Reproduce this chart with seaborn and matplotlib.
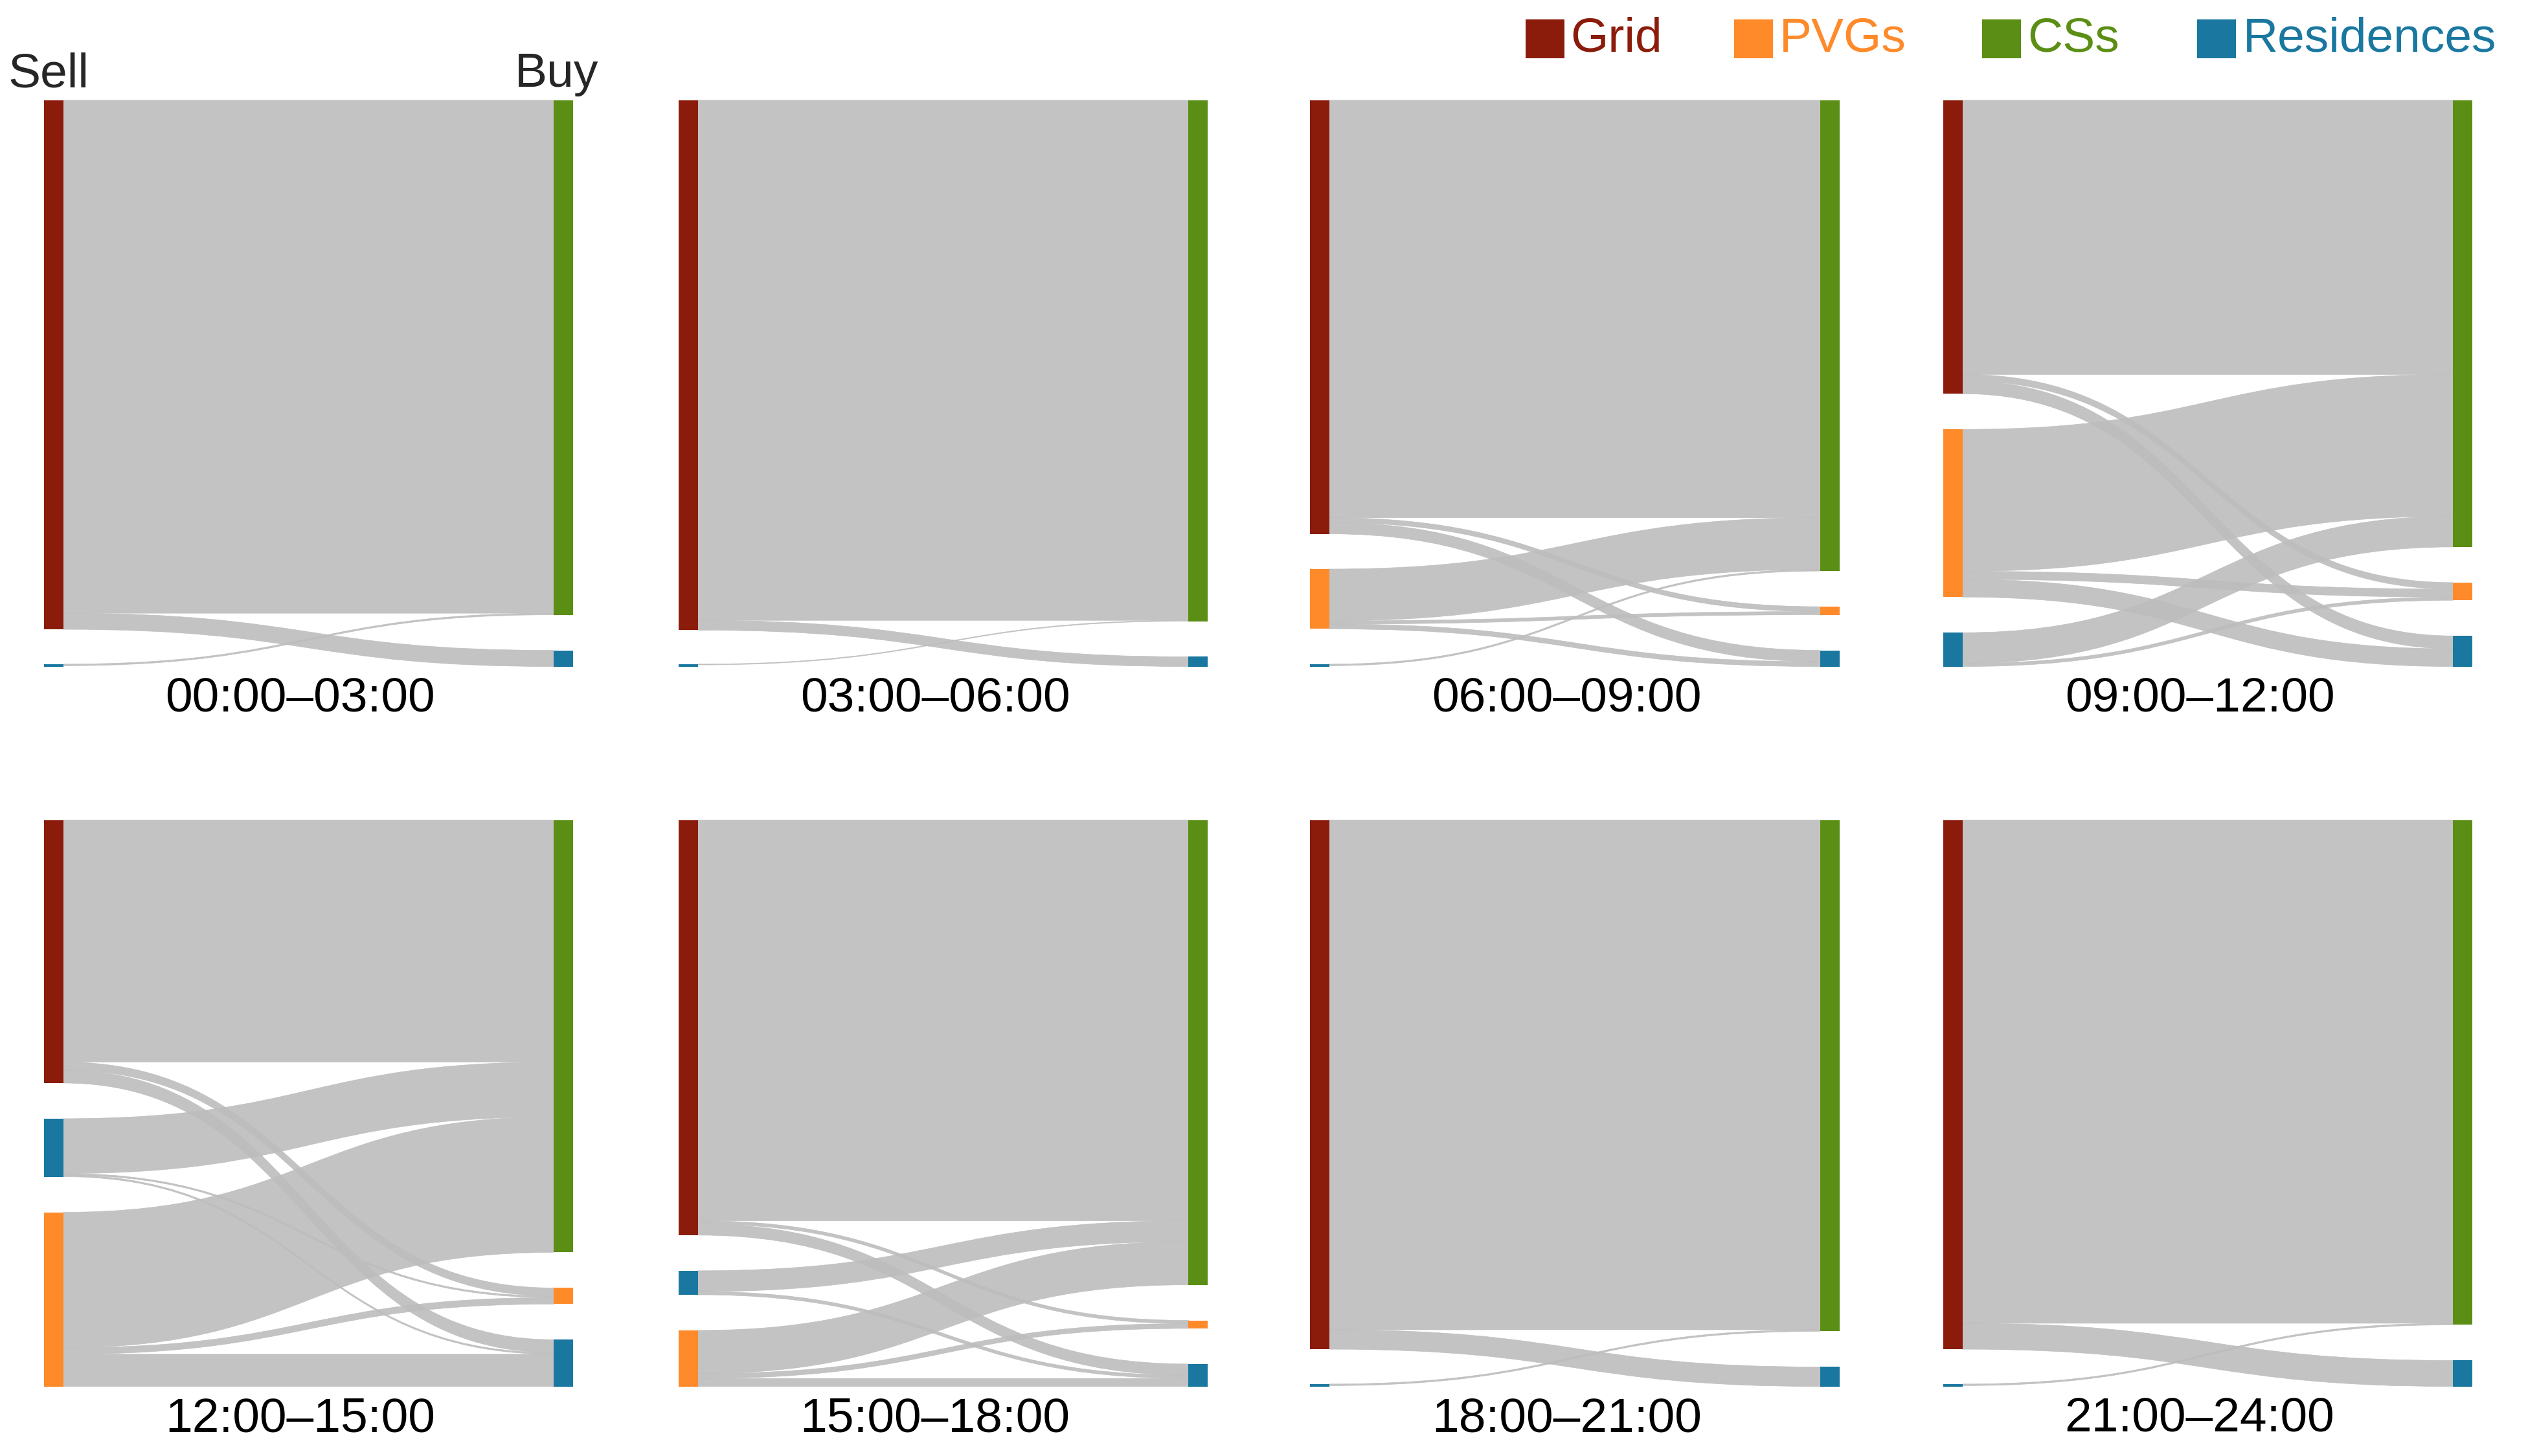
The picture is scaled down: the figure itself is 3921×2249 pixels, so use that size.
import matplotlib
matplotlib.use("Agg")
import matplotlib.pyplot as plt
from matplotlib.path import Path
from matplotlib.patches import PathPatch, Rectangle
import seaborn as sns

sns.set_theme(style="white")
plt.rcParams['font.family'] = ['Liberation Sans', 'DejaVu Sans']

node_names = ["Grid", "PVGs", "CSs", "Residences"]
node_colors = ["#8B1C0C", "#FF8A2A", "#5B8E14", "#1A78A0"]
time_labels = ["00:00–03:00", "03:00–06:00", "06:00–09:00", "09:00–12:00",
               "12:00–15:00", "15:00–18:00", "18:00–21:00", "21:00–24:00"]
left_orders = [["Grid", "Residences"], ["Grid", "Residences"],
               ["Grid", "PVGs", "Residences"], ["Grid", "PVGs", "Residences"],
               ["Grid", "Residences", "PVGs"], ["Grid", "Residences", "PVGs"],
               ["Grid", "Residences"], ["Grid", "Residences"]]
right_order = ["CSs", "PVGs", "Residences"]

flows_p1 = [("Grid", "CSs", 318), ("Grid", "Residences", 10), ("Residences", "CSs", 1)]
flows_p2 = [("Grid", "CSs", 320), ("Grid", "Residences", 6), ("Residences", "CSs", 0.5)]
flows_p3 = [("Grid", "CSs", 258), ("Grid", "PVGs", 3), ("Grid", "Residences", 7),
            ("PVGs", "CSs", 32), ("PVGs", "PVGs", 2), ("PVGs", "Residences", 3),
            ("Residences", "CSs", 1)]
flows_p4 = [("Grid", "CSs", 170), ("Grid", "PVGs", 4), ("Grid", "Residences", 8),
            ("PVGs", "CSs", 88), ("PVGs", "PVGs", 5), ("PVGs", "Residences", 11),
            ("Residences", "CSs", 19), ("Residences", "PVGs", 2)]
flows_p5 = [("Grid", "CSs", 150), ("Grid", "PVGs", 5), ("Grid", "Residences", 8),
            ("Residences", "CSs", 34), ("Residences", "PVGs", 1), ("Residences", "Residences", 1),
            ("PVGs", "CSs", 84), ("PVGs", "PVGs", 4), ("PVGs", "Residences", 20)]
flows_p6 = [("Grid", "CSs", 250), ("Grid", "PVGs", 2), ("Grid", "Residences", 7),
            ("Residences", "CSs", 13), ("Residences", "Residences", 2),
            ("PVGs", "CSs", 27), ("PVGs", "PVGs", 3), ("PVGs", "Residences", 5)]
flows_p7 = [("Grid", "CSs", 314), ("Grid", "Residences", 12), ("Residences", "CSs", 1)]
flows_p8 = [("Grid", "CSs", 310), ("Grid", "Residences", 16), ("Residences", "CSs", 1)]
all_flows = [flows_p1, flows_p2, flows_p3, flows_p4, flows_p5, flows_p6, flows_p7, flows_p8]

color_of = dict(zip(node_names, node_colors))

W, H = 1568, 900
fig = plt.figure(figsize=(39.21, 22.49), dpi=100)
ax = fig.add_axes([0, 0, 1, 1])
ax.set_xlim(0, W)
ax.set_ylim(H, 0)
ax.axis("off")

col_x = [27, 419, 809, 1200]
row_y = [62, 507]
panel_w, node_w, panel_h = 315, 12, 350
PAD = 22


def layout(order, totals, scale):
    vals = [totals.get(n, 0) * scale for n in order]
    vals = [max(v, 1.5) for v in vals]
    n = len(order)
    pad = (panel_h - sum(vals)) / (n - 1) if n > 1 else 0
    pos, y = {}, 0
    for name, v in zip(order, vals):
        pos[name] = [y, v]
        y += v + pad
    return pos


for i, flows in enumerate(all_flows):
    x0 = col_x[i % 4]
    y0 = row_y[i // 4]
    lorder = left_orders[i]
    rorder = [n for n in right_order if any(f[1] == n for f in flows)]
    ltot, rtot = {}, {}
    for s, t, v in flows:
        ltot[s] = ltot.get(s, 0) + v
        rtot[t] = rtot.get(t, 0) + v
    total = sum(ltot.values())
    nmax = max(len(lorder), len(rorder))
    scale = (panel_h - (nmax - 1) * PAD) / total
    lpos = layout(lorder, ltot, scale)
    rpos = layout(rorder, rtot, scale)
    loff = {n: lpos[n][0] for n in lorder}
    roff = {n: rpos[n][0] for n in rorder}
    # order links: at source by target order, at target by source order
    src_sorted = sorted(flows, key=lambda f: (lorder.index(f[0]), rorder.index(f[1])))
    starts = {}
    for s, t, v in src_sorted:
        starts[(s, t)] = loff[s]
        loff[s] += v * scale
    tgt_sorted = sorted(flows, key=lambda f: (rorder.index(f[1]), lorder.index(f[0])))
    ends = {}
    for s, t, v in tgt_sorted:
        ends[(s, t)] = roff[t]
        roff[t] += v * scale
    xa = x0 + node_w
    xb = x0 + panel_w
    xm = (xa + xb) / 2
    for s, t, v in flows:
        h = v * scale
        ya = y0 + starts[(s, t)]
        yb = y0 + ends[(s, t)]
        verts = [(xa, ya), (xm, ya), (xm, yb), (xb, yb),
                 (xb, yb + h), (xm, yb + h), (xm, ya + h), (xa, ya + h), (xa, ya)]
        codes = [Path.MOVETO, Path.CURVE4, Path.CURVE4, Path.CURVE4,
                 Path.LINETO, Path.CURVE4, Path.CURVE4, Path.CURVE4, Path.CLOSEPOLY]
        ax.add_patch(PathPatch(Path(verts, codes), facecolor="#BDBDBD", edgecolor="#BDBDBD",
                               lw=0.5, alpha=0.9, zorder=1))
    for n in lorder:
        yy, hh = lpos[n]
        ax.add_patch(Rectangle((x0, y0 + yy), node_w, hh, facecolor=color_of[n], edgecolor="none", zorder=2))
    for n in rorder:
        yy, hh = rpos[n]
        ax.add_patch(Rectangle((xb, y0 + yy), node_w, hh, facecolor=color_of[n], edgecolor="none", zorder=2))
    ax.text(x0 + (panel_w + node_w) / 2 - 5, y0 + panel_h + 20, time_labels[i],
            ha="center", va="center", fontsize=54, color="black")

ax.text(5, 46, "Sell", ha="left", va="center", fontsize=54)
ax.text(318, 46, "Buy", ha="left", va="center", fontsize=54)

leg_x = [942, 1071, 1224, 1357]
for lx, n, c in zip(leg_x, node_names, node_colors):
    ax.add_patch(Rectangle((lx, 12), 24, 24, facecolor=c, edgecolor="none"))
    ax.text(lx + 28, 24, n, ha="left", va="center", fontsize=54, color=c)

fig.savefig("out.png", dpi=100)
